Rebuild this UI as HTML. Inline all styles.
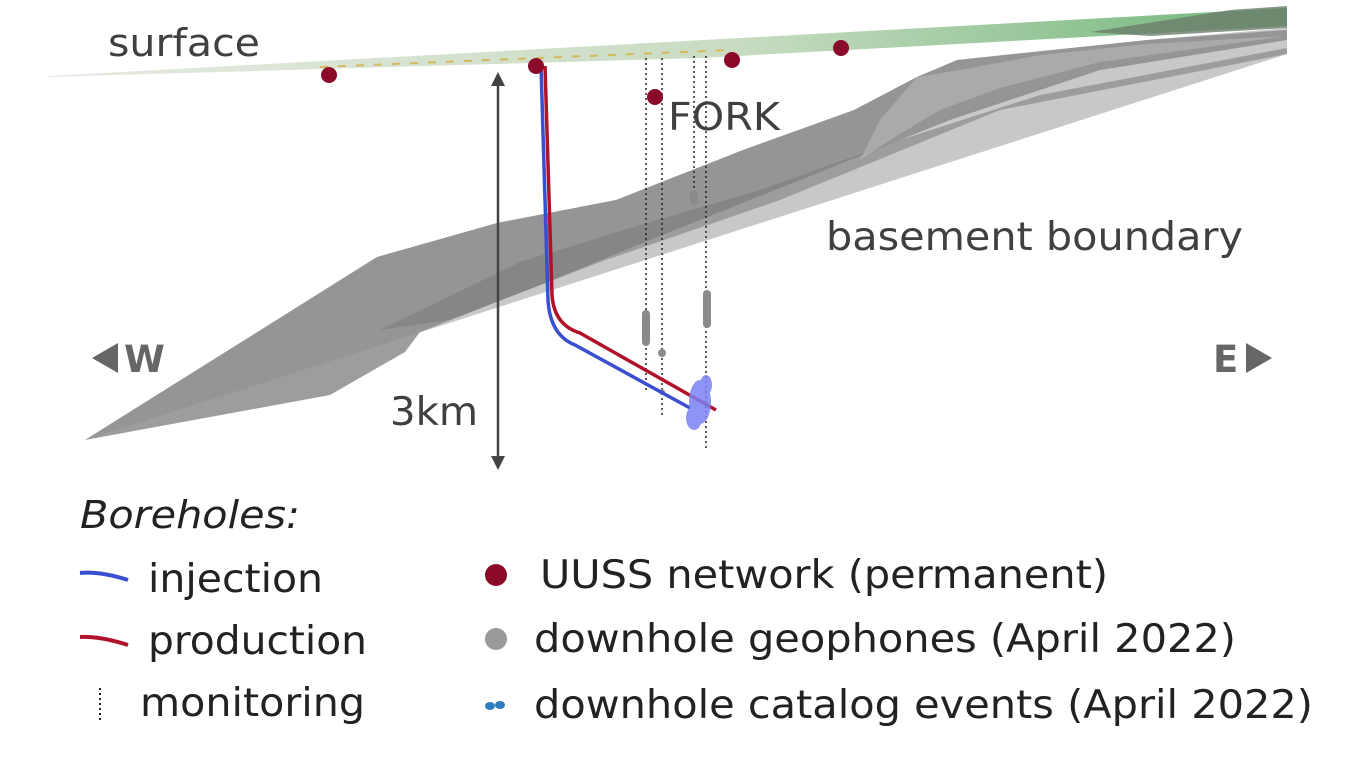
<!DOCTYPE html>
<html><head><meta charset="utf-8"><style>
html,body{margin:0;padding:0;background:#fff;}
svg{display:block;}
text{font-family:"DejaVu Sans","Liberation Sans",sans-serif;}
</style></head><body>
<svg width="1349" height="761" viewBox="0 0 1349 761" xmlns="http://www.w3.org/2000/svg">
<defs>
<linearGradient id="sg" x1="0" x2="1" y1="0" y2="0">
<stop offset="0" stop-color="#e2e8de"/><stop offset="0.55" stop-color="#c3d8bc"/><stop offset="1" stop-color="#5fae6a"/>
</linearGradient>
</defs>
<!-- basement light band -->
<polygon points="85,440 1287,54 1287,28 1147,40 957,60 917,77 854,110 743,150 616,200 497,223 377,257" fill="#c8c8c8"/>
<!-- dark wing -->
<polygon points="85,440 377,257 497,223 616,200 743,150 854,110 917,77 957,60 1147,40 1287,30 1287,40 1100,70 950,120 800,180 650,240 540,285 420,332 405,352 330,395" fill="#8c8c8c" opacity="0.85"/>
<polygon points="380,330 520,262 640,225 760,190 900,140 1040,95 1287,48 1287,54 1000,110 780,200 600,262 450,320" fill="#7a7a7a" opacity="0.55"/>
<polygon points="917,77 960,70 1040,55 1147,44 1287,36 1100,62 1000,88 940,110 890,140 860,160 880,120" fill="#b4b4b4" opacity="0.7"/>
<!-- surface -->
<polygon points="48,76 1287,8 1287,26 700,58 48,77" fill="url(#sg)" opacity="0.9"/>
<polygon points="1090,32 1180,18 1230,10 1287,6 1287,28 1150,36" fill="#6b7d6b" opacity="0.8"/>
<line x1="320" y1="67" x2="730" y2="50" stroke="#d4b040" stroke-width="2" stroke-dasharray="8 10" opacity="0.8"/>
<!-- dotted monitoring -->
<g stroke="#222" stroke-width="1.5" stroke-dasharray="2 3">
<line x1="646" y1="58" x2="646" y2="390"/>
<line x1="662" y1="58" x2="662" y2="418"/>
<line x1="694" y1="56" x2="694" y2="200"/>
<line x1="706" y1="56" x2="706" y2="450"/>
</g>
<g fill="#8a8a8a">
<rect x="642" y="310" width="8" height="36" rx="4"/>
<rect x="703" y="290" width="8" height="38" rx="4"/>
<rect x="690" y="190" width="8" height="15" rx="4"/>
<circle cx="662" cy="353" r="4"/>
<circle cx="662" cy="392" r="3"/>
</g>
<path d="M541,66 L548,300 Q550,335 575,345 L690,408" fill="none" stroke="#3a4fcf" stroke-width="3.5"/>
<path d="M545,66 L552,295 Q554,325 580,333 L716,410" fill="none" stroke="#b0122a" stroke-width="3.5"/>
<g fill="#7b82f5" opacity="0.85">
<ellipse cx="700" cy="402" rx="11" ry="22"/>
<ellipse cx="694" cy="418" rx="8" ry="12"/>
<ellipse cx="706" cy="385" rx="6" ry="10"/>
</g>
<g fill="#8b0a2a">
<circle cx="329" cy="75" r="8"/><circle cx="536" cy="66" r="8"/><circle cx="732" cy="60" r="8"/>
<circle cx="841" cy="48" r="8"/><circle cx="655" cy="97" r="8"/>
</g>
<line x1="498" y1="82" x2="498" y2="460" stroke="#444" stroke-width="2.5"/>
<polygon points="491,86 498,72 505,86" fill="#444"/>
<polygon points="491,456 498,470 505,456" fill="#444"/>
<g fill="#404040">
<text x="108" y="56" font-size="38" textLength="152" lengthAdjust="spacingAndGlyphs">surface</text>
<text x="668" y="130" font-size="38" textLength="112" lengthAdjust="spacingAndGlyphs">FORK</text>
<text x="826" y="250" font-size="39" textLength="417" lengthAdjust="spacingAndGlyphs">basement boundary</text>
<text x="390" y="425" font-size="39" textLength="88" lengthAdjust="spacingAndGlyphs">3km</text>
</g>
<polygon points="92,358 118,343 118,373" fill="#666"/>
<text x="124" y="372" font-size="37" font-weight="bold" fill="#666">W</text>
<text x="1213" y="372" font-size="37" font-weight="bold" fill="#666">E</text>
<polygon points="1272,358 1246,343 1246,373" fill="#666"/>
<g fill="#222">
<text x="80" y="528" font-size="38" font-style="italic" textLength="220" lengthAdjust="spacingAndGlyphs">Boreholes:</text>
<text x="148" y="592" font-size="39" textLength="175" lengthAdjust="spacingAndGlyphs">injection</text>
<text x="148" y="654" font-size="39" textLength="219" lengthAdjust="spacingAndGlyphs">production</text>
<text x="140" y="716" font-size="39" textLength="225" lengthAdjust="spacingAndGlyphs">monitoring</text>
<text x="540" y="588" font-size="39" textLength="568" lengthAdjust="spacingAndGlyphs">UUSS network (permanent)</text>
<text x="534" y="652" font-size="39" textLength="702" lengthAdjust="spacingAndGlyphs">downhole geophones (April 2022)</text>
<text x="534" y="718" font-size="39" textLength="779" lengthAdjust="spacingAndGlyphs">downhole catalog events (April 2022)</text>
</g>
<path d="M80,573 Q100,571 128,580" stroke="#3a4fcf" stroke-width="4" fill="none"/>
<path d="M80,637 Q100,636 128,645" stroke="#b0122a" stroke-width="4" fill="none"/>
<line x1="100" y1="688" x2="100" y2="722" stroke="#222" stroke-width="2" stroke-dasharray="2 3"/>
<circle cx="496" cy="575" r="11" fill="#8b0a2a"/>
<circle cx="496" cy="639" r="11" fill="#999"/>
<ellipse cx="490" cy="706" rx="5" ry="4" fill="#2f7fc0"/>
<ellipse cx="500" cy="705" rx="5" ry="4" fill="#2f7fc0"/>
</svg>
</body></html>
